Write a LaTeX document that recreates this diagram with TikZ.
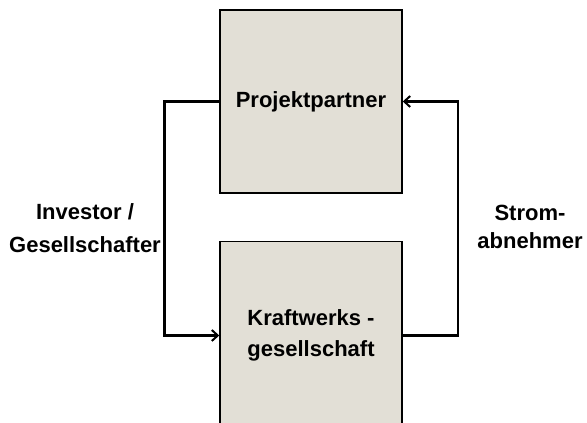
\documentclass[tikz,border=0pt]{standalone}
\usepackage{fontspec}
\setmainfont{Liberation Sans}
\usetikzlibrary{positioning,arrows.meta}

\definecolor{boxgray}{RGB}{226,223,214}

\tikzset{
  block/.style={draw, fill=boxgray, line width=1.5pt, minimum width=182pt,
    minimum height=183pt, align=center, font=\fontsize{22}{31}\selectfont\bfseries},
  role/.style={align=center, font=\fontsize{22}{31}\selectfont\bfseries},
  conn/.style={line width=2.5pt, -{Straight Barb[length=6pt,width=11pt,line width=2pt]}}
}

\begin{document}
\begin{tikzpicture}[x=1pt,y=1pt]
  \useasboundingbox (0,0) rectangle (587,423);
  % the two companies
  \node[block] (partner) at (311,321.5) {Projektpartner};
  \node[block, minimum height=188pt] (kraft) [below=47pt of partner]
    {Kraftwerks -\\gesellschaft};
  % connectors
  \draw[conn] (partner.west) -- ++(-55pt,0) |- (kraft.west);
  \draw[conn] (kraft.east) -- ++(55pt,0) |- (partner.east);
  % roles
  \node[role] (investor) at (85,194.5) {Investor /\\[2pt]Gesellschafter};
  \node[role] (strom) at (530,196) {Strom-\\[-3pt]abnehmer};
\end{tikzpicture}
\end{document}
